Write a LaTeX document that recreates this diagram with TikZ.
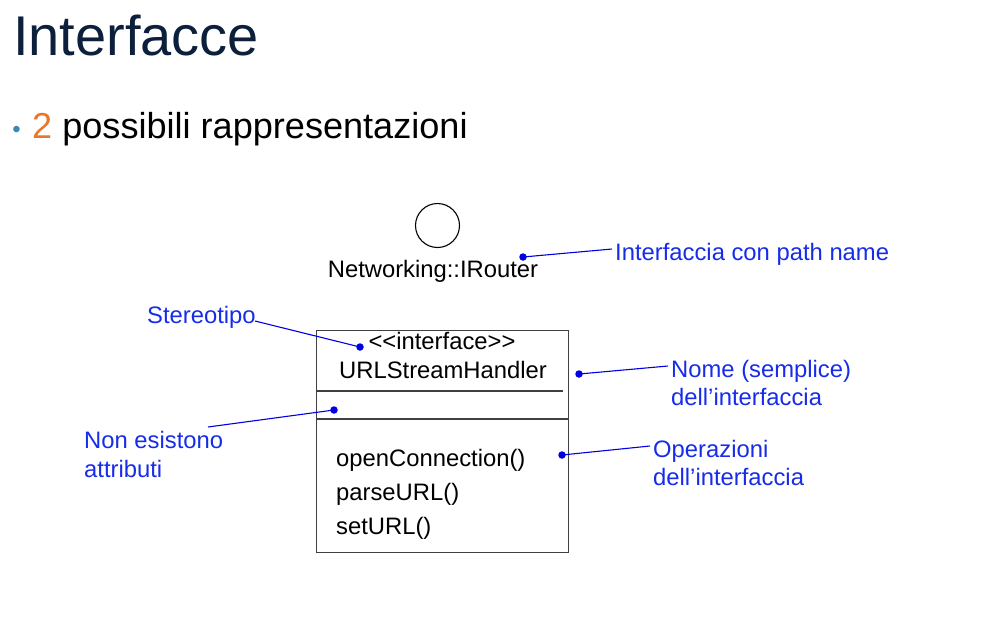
\documentclass[tikz,border=0pt]{standalone}
\usepackage{fontspec}
\setmainfont{Liberation Sans}
\definecolor{titlenavy}{RGB}{12,32,60}
\definecolor{bulletblue}{RGB}{60,135,180}
\definecolor{numorange}{RGB}{232,118,43}
\definecolor{noteblue}{RGB}{22,44,232}
\definecolor{lineblue}{RGB}{0,0,225}
\definecolor{boxgray}{RGB}{64,64,64}
\begin{document}
\begin{tikzpicture}[x=1pt,y=-1pt,
  txt/.style={inner sep=0pt, font=\fontsize{23.8}{28}\selectfont},
  umltext/.style={txt, text=black},
  note/.style={txt, text=noteblue, anchor=base west},
  leader/.style={draw=lineblue, line width=1.1pt},
  dot/.style={circle, fill=lineblue, inner sep=0pt, minimum size=7.5pt},
  boxline/.style={draw=boxgray, line width=1.2pt}]
\useasboundingbox (0,0) rectangle (981,643);

% heading and bullet line
\node[anchor=base west, inner sep=0pt, font=\fontsize{56}{60}\selectfont, text=titlenavy] (title) at (13,55) {Interfacce};
\node[anchor=base, inner sep=0pt, font=\fontsize{24}{24}\selectfont, text=bulletblue] (bullet) at (16.5,137) {•};
\node[anchor=base west, inner sep=0pt, font=\fontsize{36.1}{40}\selectfont] (subtitle) at (32,138) {\textcolor{numorange}{2} possibili rappresentazioni};

% lollipop notation
\node[draw=black, circle, line width=1.1pt, minimum size=44pt, inner sep=0pt] (lollipop) at (437.5,225.5) {};
\node[umltext, anchor=base] (ifname) at (433,277) {Networking::IRouter};

% class-box notation
\node[boxline, anchor=north west, minimum width=252pt, minimum height=222pt, inner sep=0pt] (box) at (316,330) {};
\draw[boxline] ([yshift=-61pt]box.north west) -- ++(247,0);
\draw[boxline] ([yshift=-89pt]box.north west) -- ++(252,0);
\node[umltext, anchor=base] (stereo) at (442,349) {<{}<interface>{}>};
\node[umltext, anchor=base] (clsname) at (443,378) {URLStreamHandler};
\node[umltext, anchor=base west] (op1) at (336,466) {openConnection()};
\node[umltext, anchor=base west] (op2) at (336,500) {parseURL()};
\node[umltext, anchor=base west] (op3) at (336,534) {setURL()};

% annotations
\node[note] (nRouter) at (615,260) {Interfaccia con path name};
\node[note] (nStereo) at (147,323) {Stereotipo};
\node[note] (nName1) at (671,377) {Nome (semplice)};
\node[note] (nName2) at (671,405) {dell’interfaccia};
\node[note] (nAttr1) at (84,448) {Non esistono};
\node[note] (nAttr2) at (84,477) {attributi};
\node[note] (nOps1) at (653,457) {Operazioni};
\node[note] (nOps2) at (653,485) {dell’interfaccia};

% leader ends
\coordinate (eRouter) at (612,249);
\coordinate (eStereo) at (255,321);
\coordinate (eName) at (668,366);
\coordinate (eAttr) at (208,427);
\coordinate (eOps) at (650,446);

% leader dots
\node[dot] (dRouter) at (523,257) {};
\node[dot] (dStereo) at (360,347) {};
\node[dot] (dName) at (579,374) {};
\node[dot] (dAttr) at (334,410) {};
\node[dot] (dOps) at (562,455) {};

\draw[leader] (dRouter.center) -- (eRouter);
\draw[leader] (eStereo) -- (dStereo.center);
\draw[leader] (dName.center) -- (eName);
\draw[leader] (eAttr) -- (dAttr.center);
\draw[leader] (dOps.center) -- (eOps);
\end{tikzpicture}
\end{document}
